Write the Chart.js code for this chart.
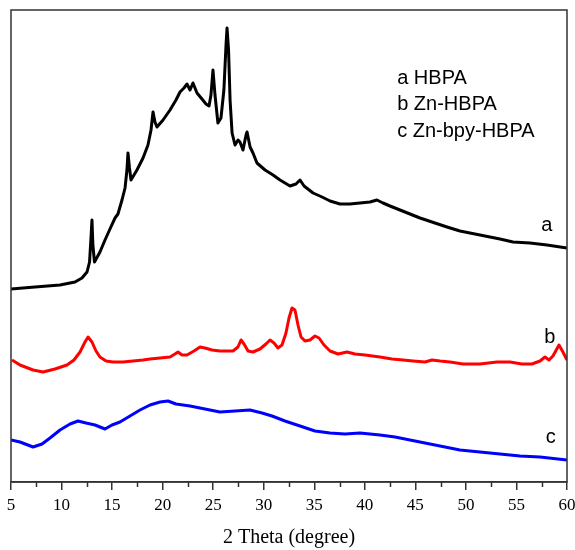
<!DOCTYPE html>
<html><head><meta charset="utf-8">
<script src="https://cdn.jsdelivr.net/npm/chart.js@4/dist/chart.umd.min.js"></script>
<style>html,body{margin:0;padding:0;background:#fff;}#wrap{width:575px;height:550px;}</style>
</head><body><div id="wrap"><canvas id="c" width="575" height="550"></canvas></div>
<script>
// 2 Theta (degree) and relative intensity (arbitrary units)
const theta_a = [5.0,7.37,9.85,11.33,12.02,12.52,12.77,12.9,13.01,13.1,13.26,13.8,14.3,14.79,15.29,15.58,15.98,16.28,16.47,16.57,16.72,16.87,17.46,18.06,18.55,18.85,19.05,19.24,19.44,20.04,20.73,21.32,21.72,22.11,22.41,22.71,23.0,23.4,23.89,24.29,24.59,24.78,24.98,25.18,25.47,25.77,26.06,26.27,26.37,26.52,26.67,26.87,27.16,27.46,27.65,27.95,28.25,28.35,28.65,28.94,29.33,30.13,30.92,31.61,32.6,33.19,33.59,33.99,34.88,35.77,36.56,37.55,38.53,39.52,40.51,41.2,41.8,42.49,43.48,44.47,45.46,46.94,48.13,49.41,51.39,53.37,54.66,56.34,58.02,60.0];
const int_a = [193,195,197,200,204,210,220,242,262,237,220,230,242,253,264,268,282,294,312,329,314,302,312,324,337,352,370,360,355,362,372,382,390,394,398,392,399,389,383,378,376,387,412,387,359,364,392,437,454,432,382,349,337,342,340,332,347,350,335,329,319,312,307,302,296,298,302,296,289,285,281,278,278,279,280,282,279,276,272,268,264,259,255,251,247,243,240,239,237,234];

const theta_b = [5.1,5.89,7.18,8.17,9.35,10.54,11.23,11.83,12.32,12.62,13.01,13.41,13.8,14.4,15.09,16.08,17.07,18.06,18.75,19.74,20.73,21.22,21.52,21.92,22.41,23.1,23.7,24.19,24.88,25.67,26.96,27.45,27.75,28.05,28.45,28.94,29.63,30.22,30.62,31.02,31.41,31.81,32.2,32.5,32.8,33.09,33.39,33.69,34.08,34.58,35.07,35.47,35.96,36.56,37.35,38.24,39.03,40.02,41.5,42.69,43.78,44.77,45.95,46.65,47.44,48.43,49.71,51.39,53.08,54.36,55.55,56.53,57.33,57.82,58.22,58.61,59.21,59.6,60.0];
const int_b = [122,117,112,110,113,117,122,130,140,145,140,131,125,121,120,120,121,122,123,124,125,128,130,127,127,131,135,134,132,131,131,135,142,138,131,130,133,138,142,139,134,137,149,164,174,172,157,145,141,142,146,144,137,131,128,130,128,127,125,123,122,121,120,122,121,120,118,118,120,120,118,118,121,125,122,126,137,130,122];

const theta_c = [5.0,5.89,7.18,8.07,8.86,9.85,10.84,11.63,12.42,13.31,14.3,14.99,15.78,16.77,17.76,18.75,19.74,20.53,21.32,22.71,24.19,25.67,27.16,28.64,29.83,30.82,32.1,33.59,35.07,36.56,38.04,39.52,41.5,42.99,44.47,45.95,47.44,49.41,51.39,53.37,55.35,57.33,60.0];
const int_c = [42,40,35,38,44,52,58,61,59,57,53,57,60,66,72,77,80,81,78,76,73,70,71,72,69,66,61,56,51,49,48,49,47,45,42,39,36,32,30,28,26,25,22];

const xTicks = [5,10,15,20,25,30,35,40,45,50,55,60];
const xMinorTicks = [7.5,12.5,17.5,22.5,27.5,32.5,37.5,42.5,47.5,52.5,57.5];
const legendLines = ['a HBPA','b Zn-HBPA','c Zn-bpy-HBPA'];
const curveTags = ['a','b','c'];
const curveTagX = [58.0,58.3,58.4];
const curveTagY = [257,145,45];
const seriesColors = ['#000000','#ff0000','#0000ff'];

const toPts = (xs, ys) => xs.map((x, i) => ({x: x, y: ys[i]}));

const frameColor = '#333333';

const decor = {
  id: 'decor',
  afterDraw(chart) {
    const {ctx, chartArea: a, scales: {x, y}} = chart;
    ctx.save();
    ctx.strokeStyle = frameColor;
    ctx.lineWidth = 1.5;
    ctx.strokeRect(a.left, a.top, a.right - a.left, a.bottom - a.top);
    ctx.beginPath();
    xMinorTicks.forEach(v => {
      const px = Math.round(x.getPixelForValue(v)) + 0.5;
      ctx.moveTo(px, a.bottom);
      ctx.lineTo(px, a.bottom + 5);
    });
    ctx.stroke();
    ctx.fillStyle = '#000';
    ctx.font = '20px "Liberation Sans", Arial, sans-serif';
    ctx.textBaseline = 'middle';
    ctx.textAlign = 'left';
    const lx = x.getPixelForValue(43.2);
    legendLines.forEach((t, i) => {
      ctx.fillText(t, lx, a.top + 68 + i * 26.5);
    });
    ctx.textAlign = 'center';
    curveTags.forEach((t, i) => {
      ctx.fillText(t, x.getPixelForValue(curveTagX[i]), y.getPixelForValue(curveTagY[i]));
    });
    ctx.restore();
  }
};

new Chart(document.getElementById('c'), {
  type: 'line',
  data: {
    datasets: [
      {label: 'a', data: toPts(theta_a, int_a), borderColor: seriesColors[0]},
      {label: 'b', data: toPts(theta_b, int_b), borderColor: seriesColors[1]},
      {label: 'c', data: toPts(theta_c, int_c), borderColor: seriesColors[2]}
    ]
  },
  options: {
    responsive: false,
    animation: false,
    devicePixelRatio: 1,
    layout: {padding: {left: 11, right: 8, top: 10, bottom: 0}},
    elements: {
      line: {borderWidth: 3, tension: 0, fill: false, borderJoinStyle: 'round'},
      point: {radius: 0, hoverRadius: 0}
    },
    plugins: {legend: {display: false}, tooltip: {enabled: false}},
    scales: {
      x: {
        type: 'linear', min: 5, max: 60,
        afterBuildTicks: (s) => { s.ticks = xTicks.map(v => ({value: v})); },
        afterFit: (s) => { s.height = 68; s.paddingLeft = 0; s.paddingRight = 0; },
        ticks: {
          color: '#000', padding: 5, maxRotation: 0, autoSkip: false,
          font: {family: '"Liberation Serif", "Times New Roman", serif', size: 17}
        },
        grid: {drawOnChartArea: false, drawTicks: true, tickLength: 8, color: frameColor, lineWidth: 1.5},
        border: {display: true, color: frameColor, width: 1.5},
        title: {
          display: true, text: '2 Theta (degree)', color: '#000', padding: {top: 0, bottom: 0},
          font: {family: '"Liberation Serif", "Times New Roman", serif', size: 20}
        }
      },
      y: {display: false, min: 0, max: 472}
    }
  },
  plugins: [decor]
});
</script></body></html>
